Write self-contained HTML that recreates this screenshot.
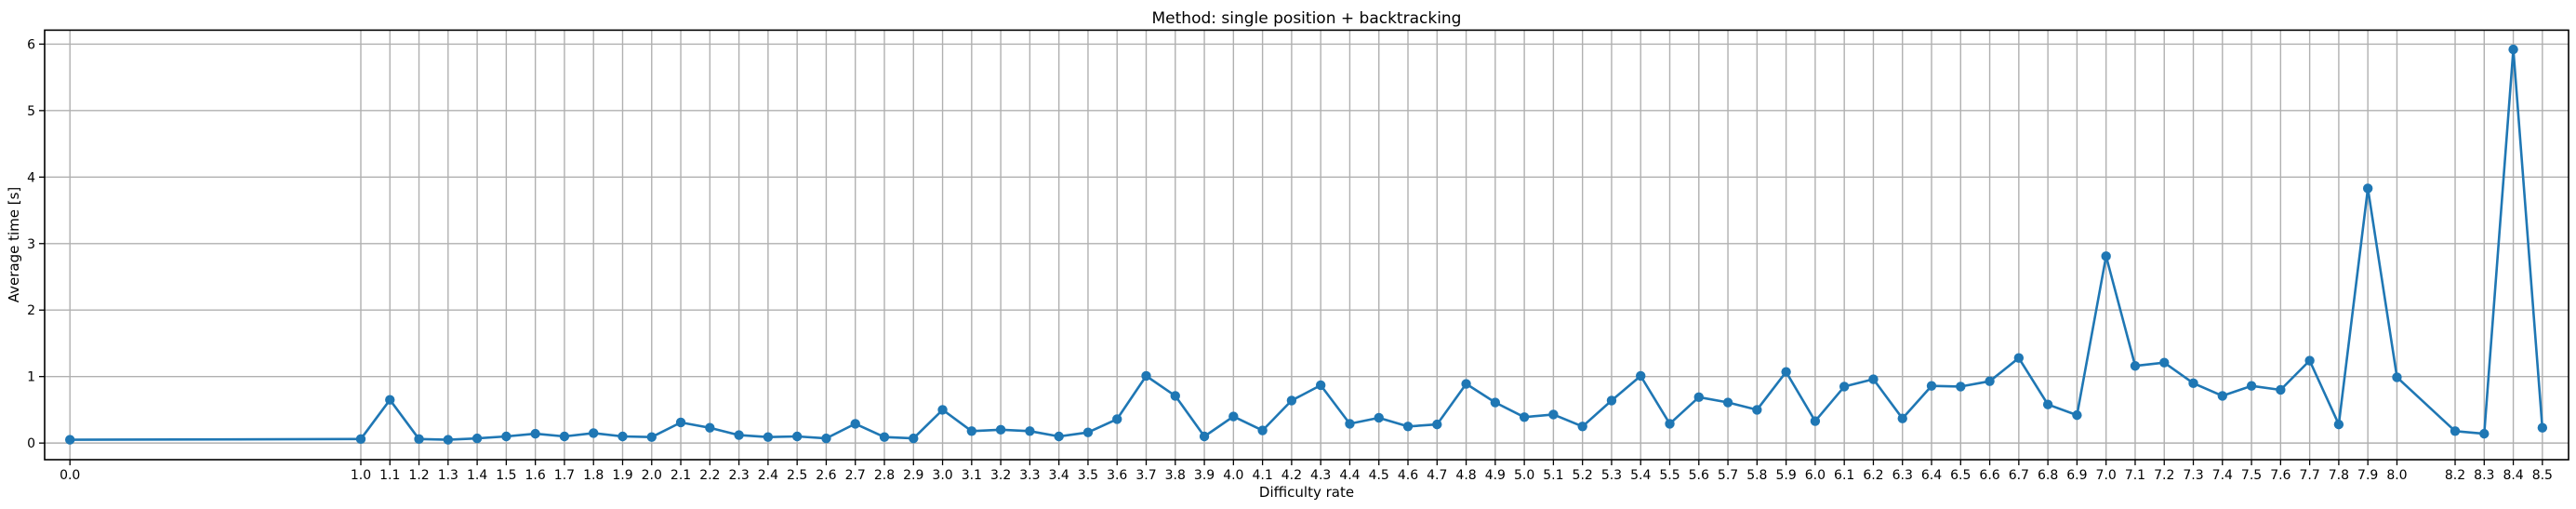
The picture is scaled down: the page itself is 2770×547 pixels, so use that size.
<!DOCTYPE html>
<html><head><meta charset="utf-8"><style>
html,body{margin:0;padding:0;background:#fff;}
svg{display:block;font-family:"DejaVu Sans","Liberation Sans",sans-serif;}
</style></head><body>
<svg id="chart" width="2770" height="547" viewBox="0 0 2770 547" xmlns="http://www.w3.org/2000/svg">
<rect width="2770" height="547" fill="#fff"/>
<g id="grid"></g>
<g id="series"></g>
<g id="axes"></g>
<text x="1405" y="25" font-size="17" text-anchor="middle" fill="#000">Method: single position + backtracking</text>
<text x="1405" y="534" font-size="15" text-anchor="middle" fill="#000">Difficulty rate</text>
<text transform="translate(20,263) rotate(-90)" font-size="15" text-anchor="middle" fill="#000">Average time [s]</text>
</svg>
<script>
const categories = [0.0,1.0,1.1,1.2,1.3,1.4,1.5,1.6,1.7,1.8,1.9,2.0,2.1,2.2,2.3,2.4,2.5,2.6,2.7,2.8,2.9,3.0,3.1,3.2,3.3,3.4,3.5,3.6,3.7,3.8,3.9,4.0,4.1,4.2,4.3,4.4,4.5,4.6,4.7,4.8,4.9,5.0,5.1,5.2,5.3,5.4,5.5,5.6,5.7,5.8,5.9,6.0,6.1,6.2,6.3,6.4,6.5,6.6,6.7,6.8,6.9,7.0,7.1,7.2,7.3,7.4,7.5,7.6,7.7,7.8,7.9,8.0,8.2,8.3,8.4,8.5];
const avgTime = [0.05,0.06,0.65,0.06,0.05,0.07,0.10,0.14,0.10,0.15,0.10,0.09,0.31,0.23,0.12,0.09,0.10,0.07,0.29,0.09,0.07,0.50,0.18,0.20,0.18,0.10,0.16,0.36,1.01,0.71,0.10,0.40,0.19,0.64,0.87,0.29,0.38,0.25,0.28,0.89,0.61,0.39,0.43,0.25,0.64,1.01,0.29,0.69,0.61,0.50,1.07,0.33,0.85,0.96,0.37,0.86,0.85,0.93,1.28,0.58,0.42,2.81,1.16,1.21,0.90,0.71,0.86,0.80,1.24,0.28,3.83,0.99,0.18,0.14,5.92,0.23];
const yTicks = [0,1,2,3,4,5,6];
const xTickLabels = categories.map(v => v.toFixed(1));

const L=48,R=2762,T=32.4,B=494;
const xMin=-0.087,xMax=8.59,yMin=-0.25,yMax=6.21;
const sx=v=>L+(v-xMin)/(xMax-xMin)*(R-L);
const sy=v=>B-(v-yMin)/(yMax-yMin)*(B-T);
const NS="http://www.w3.org/2000/svg";
function mk(tag,attrs,parent){const e=document.createElementNS(NS,tag);for(const k in attrs)e.setAttribute(k,attrs[k]);parent.appendChild(e);return e;}
const grid=document.getElementById('grid'),series=document.getElementById('series'),axes=document.getElementById('axes');

categories.forEach((c,i)=>{
  const x=sx(c);
  const g=mk('line',{x1:x,x2:x,y1:T,y2:B,stroke:'#b0b0b0','stroke-width':1.4},grid);
  
  
  const t=mk('line',{x1:x,x2:x,y1:B,y2:B+6,stroke:'#000','stroke-width':1.3},axes);
  
  
  const lb=mk('text',{x:x,y:B+21,'font-size':14,'text-anchor':'middle',fill:'#000'},axes);
  lb.textContent=xTickLabels[i];
  
  
});
yTicks.forEach(v=>{
  const y=sy(v);
  const g=mk('line',{x1:L,x2:R,y1:y,y2:y,stroke:'#b0b0b0','stroke-width':1.4},grid);
  
  
  const t=mk('line',{x1:L-6,x2:L,y1:y,y2:y,stroke:'#000','stroke-width':1.3},axes);
  
  
  const lb=mk('text',{x:L-10,y:y+5,'font-size':14,'text-anchor':'end',fill:'#000'},axes);
  lb.textContent=String(v);
  
  
});
const frame=mk('rect',{x:L,y:T,width:R-L,height:B-T,fill:'none',stroke:'#000','stroke-width':1.6},axes);



const pts=categories.map((c,i)=>sx(c).toFixed(1)+','+sy(avgTime[i]).toFixed(1)).join(' ');
const line=mk('polyline',{points:pts,fill:'none',stroke:'#1f77b4','stroke-width':2.6,'stroke-linejoin':'round'},series);


categories.forEach((c,i)=>{
  const m=mk('circle',{cx:sx(c),cy:sy(avgTime[i]),r:5.2,fill:'#1f77b4'},series);
  
  
});
</script>
</body></html>
